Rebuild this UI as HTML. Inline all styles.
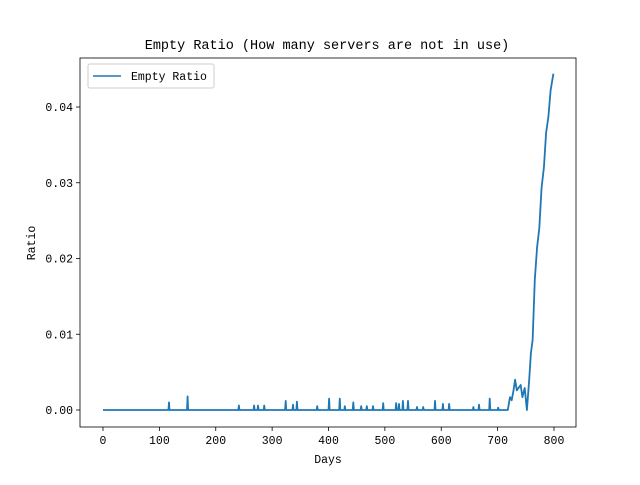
<!DOCTYPE html>
<html><head><meta charset="utf-8"><style>
body{margin:0;background:#fff;}
svg text{font-family:"Liberation Mono",monospace;fill:#000;}
</style></head><body>
<svg width="640" height="480" id="c"></svg>
<script>
const days = [0,116,117,118,149,150,151,240,241,242,267,268,269,274,275,276,285,286,287,323,324,325,336,337,338,343,344,345,379,380,381,400,401,402,419,420,421,428,429,430,443,444,445,457,458,459,467,468,469,478,479,480,496,497,498,519,520,521,524,525,526,531,532,533,540,541,542,556,557,558,567,568,569,588,589,590,602,603,604,613,614,615,656,657,658,666,667,668,685,686,687,700,701,702,716,718,722,725,728,731,734,738,741,744,748,752,756,759,762,766,770,774,778,782,786,790,794,799];
const values = [0,0,0.001,0,0,0.0018,0,0,0.0006,0,0,0.0006,0,0,0.0006,0,0,0.0006,0,0,0.0012,0,0,0.0007,0,0,0.0011,0,0,0.0005,0,0,0.0015,0,0,0.0015,0,0,0.0005,0,0,0.001,0,0,0.0005,0,0,0.0005,0,0,0.0005,0,0,0.0009,0,0,0.0009,0,0,0.0008,0,0,0.0012,0,0,0.0012,0,0,0.0004,0,0,0.0004,0,0,0.0012,0,0,0.0008,0,0,0.0008,0,0,0.0004,0,0,0.0007,0,0,0.0015,0,0,0.0003,0,0,0,0.0017,0.0013,0.0025,0.004,0.0026,0.003,0.0033,0.0017,0.0029,0,0.004,0.0075,0.0092,0.0172,0.0215,0.024,0.0294,0.032,0.0366,0.0387,0.0422,0.0444];
const xTicks = [0,100,200,300,400,500,600,700,800];
const yTicks = [0,0.01,0.02,0.03,0.04];
const yLabels = ["0.00","0.01","0.02","0.03","0.04"];

const svg=document.getElementById('c');
const NS='http://www.w3.org/2000/svg';
const L=80,R=576,T=58,B=427;
const sx=d=>103+(d-0)*(554-103)/800;
const sy=v=>410-v*(410-107)/0.04;
function mk(tag,attrs){const e=document.createElementNS(NS,tag);for(const k in attrs)e.setAttribute(k,attrs[k]);svg.appendChild(e);return e;}
let t=mk('text',{x:327,y:49,'text-anchor':'middle','font-size':13.5});t.textContent='Empty Ratio (How many servers are not in use)';


xTicks.forEach(v=>{const x=sx(v);
 const l=mk('line',{x1:x,x2:x,y1:B,y2:B+4,stroke:'#000','stroke-width':0.8});
 
 
 const tx=mk('text',{x:x,y:B+17,'text-anchor':'middle','font-size':11.5});tx.textContent=v;
 
 });
yTicks.forEach((v,i)=>{const y=sy(v);
 const l=mk('line',{x1:L-4,x2:L,y1:y,y2:y,stroke:'#000','stroke-width':0.8});
 
 
 const tx=mk('text',{x:L-7,y:y+4,'text-anchor':'end','font-size':11.5});tx.textContent=yLabels[i];
 
 });
let xl=mk('text',{x:328,y:463,'text-anchor':'middle','font-size':11.5});xl.textContent='Days';


let yl=mk('text',{x:35,y:243,'text-anchor':'middle','font-size':11.5,transform:'rotate(-90 35 243)'});yl.textContent='Ratio';


const pts=days.map((d,i)=>sx(d).toFixed(1)+','+sy(values[i]).toFixed(1)).join(' ');
const line=mk('polyline',{points:pts,fill:'none',stroke:'#1f77b4','stroke-width':1.8,'stroke-linejoin':'round'});


const fr=mk('rect',{x:L,y:T,width:R-L,height:B-T,fill:'none',stroke:'#000','stroke-width':0.8});


const lg=mk('rect',{x:88,y:64,width:126,height:24,fill:'#fff',stroke:'#ccc','stroke-width':1,rx:2});


const ll=mk('line',{x1:93,x2:121,y1:76,y2:76,stroke:'#1f77b4','stroke-width':1.5});


const lt=mk('text',{x:131,y:80,'font-size':11.5});lt.textContent='Empty Ratio';


</script>
</body></html>
